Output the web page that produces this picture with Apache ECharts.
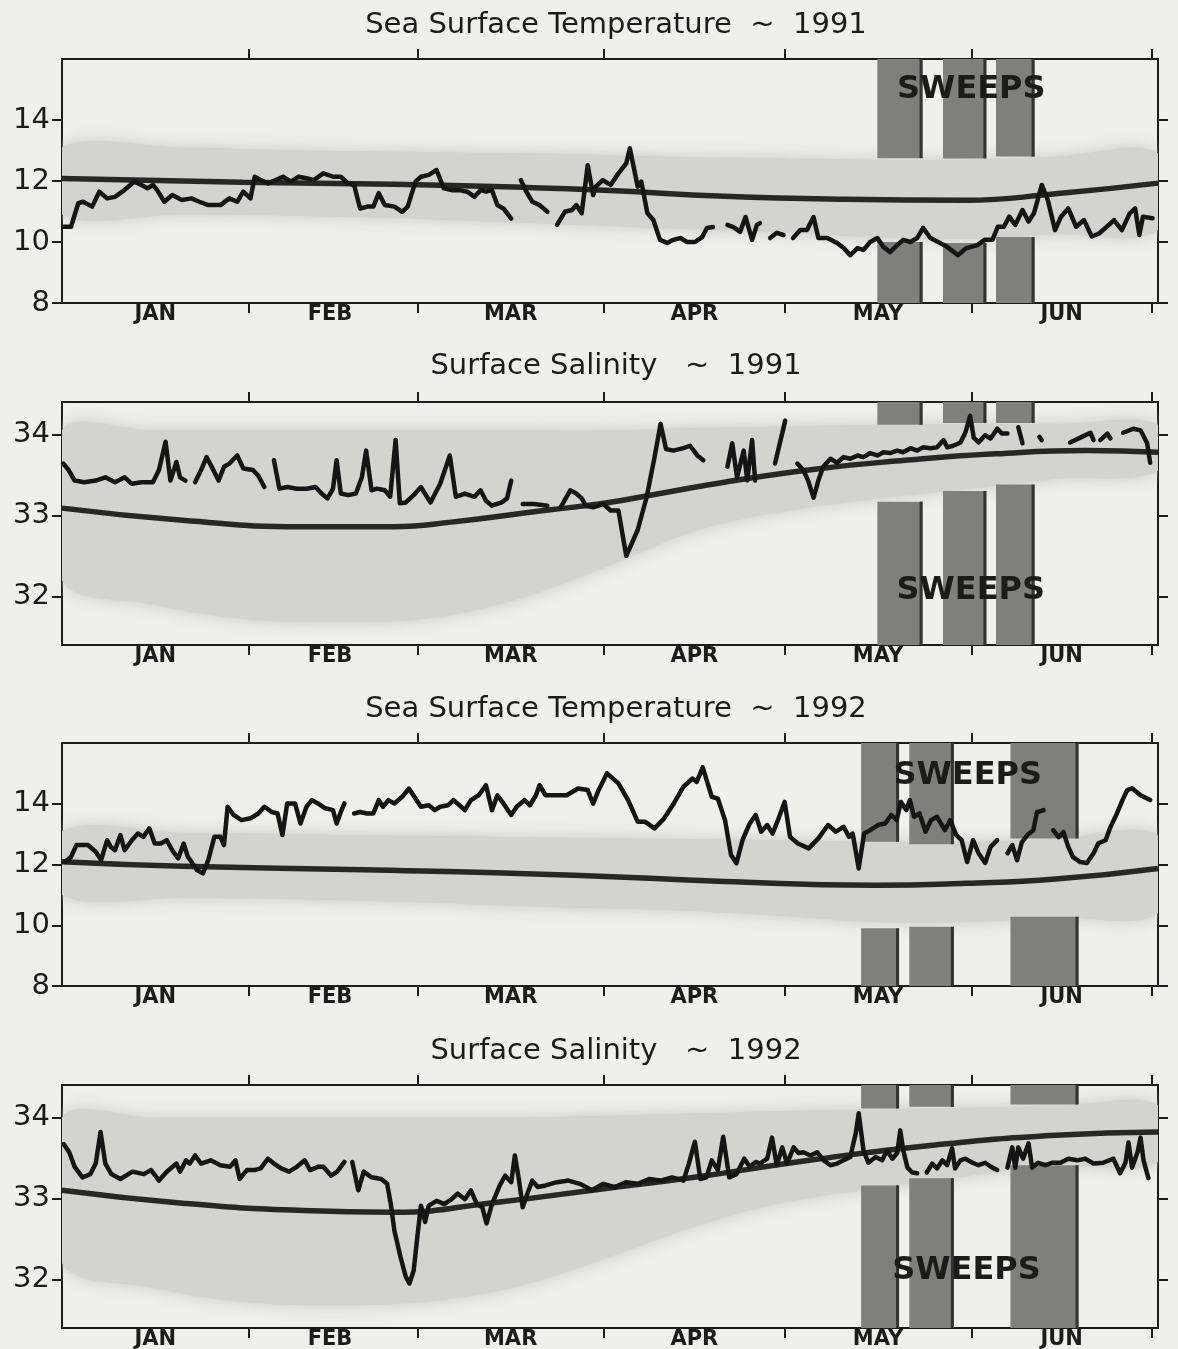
<!DOCTYPE html>
<html>
<head>
<meta charset="utf-8">
<title>Sea Surface Temperature / Surface Salinity 1991-1992</title>
<script src="https://cdn.jsdelivr.net/npm/echarts@6/dist/echarts.min.js"></script>
<style>
  html, body { margin: 0; padding: 0; background: #efefeb; }
  #chart { width: 1178px; height: 1349px; }
</style>
</head>
<body>
<div id="chart"></div>
<script>
// month axis (day of year, Jan 1 = 0)
var monthNames = ['JAN', 'FEB', 'MAR', 'APR', 'MAY', 'JUN'];
var monthMid = [15.5, 44.5, 74.5, 105, 135.5, 166];
var monthEdge = [31, 59, 90, 120, 151, 181];

var tempTicks = [8, 10, 12, 14];
var salTicks = [32, 33, 34];

// climatology band: [day, lower, upper]
var sst91Band = [[0,10.9,13.1],[20,10.9,13.1],[40,10.85,13.0],[60,10.75,12.95],[80,10.6,12.9],[100,10.45,12.8],[120,10.3,12.75],[135,10.15,12.7],[150,10.1,12.7],[165,10.25,12.8],[182,10.4,12.9]];
var sss91Band = [[0,32.2,34.05],[15,31.9,34.05],[30,31.72,34.05],[45,31.68,34.05],[60,31.72,34.05],[75,31.95,34.05],[90,32.35,34.05],[105,32.8,34.08],[120,33.05,34.1],[135,33.2,34.12],[150,33.32,34.13],[165,33.45,34.13],[182,33.55,34.12]];
var sst92Band = [[0,11.0,13.1],[20,10.9,13.05],[40,10.85,13.0],[60,10.75,12.95],[80,10.6,12.9],[100,10.5,12.85],[120,10.3,12.8],[135,10.1,12.75],[150,10.1,12.75],[165,10.25,12.85],[182,10.4,12.95]];
var sss92Band = [[0,32.2,34.0],[15,31.9,34.0],[30,31.72,34.0],[45,31.68,34.0],[60,31.72,34.0],[75,31.9,34.0],[90,32.25,34.02],[105,32.65,34.05],[120,32.95,34.08],[135,33.12,34.1],[150,33.27,34.12],[165,33.4,34.14],[182,33.45,34.15]];

// long-term mean
var sst91Mean = [[0,12.08],[30,11.96],[55,11.89],[75,11.8],[90,11.7],[110,11.5],[130,11.4],[150,11.37],[165,11.58],[182,11.93]];
var sss91Mean = [[0,33.09],[20,32.94],[40,32.86],[55,32.86],[65,32.92],[80,33.06],[90,33.15],[100,33.28],[110,33.41],[125,33.57],[140,33.68],[155,33.76],[170,33.8],[182,33.78]];
var sst92Mean = [[0,12.09],[20,11.94],[50,11.83],[85,11.65],[110,11.44],[135,11.32],[150,11.38],[165,11.52],[182,11.87]];
var sss92Mean = [[0,33.1],[20,32.94],[40,32.85],[55,32.83],[72,32.95],[90,33.12],[105,33.26],[125,33.48],[145,33.66],[165,33.78],[182,33.82]];

// observed daily values (null = no data)
var sst91Obs = [[0.2,10.5],[1.5,10.5],[2.7,11.27],[3.5,11.32],[5,11.16],[6.2,11.65],[7.5,11.43],[8.8,11.48],[10,11.65],[11,11.81],[12,11.98],[13.2,11.87],[14.2,11.76],[15.1,11.87],[15.8,11.7],[17,11.32],[18.3,11.54],[19.9,11.38],[21.5,11.43],[22.8,11.32],[24.3,11.21],[26.3,11.21],[27.8,11.43],[29.1,11.32],[30.1,11.65],[31.3,11.43],[32,12.14],[33,12.03],[34.2,11.92],[35.5,12.03],[36.7,12.14],[38,11.98],[39.3,12.14],[40.6,12.09],[41.8,12.03],[43.4,12.25],[45,12.14],[46.3,12.14],[47.5,11.92],[48.5,11.87],[49.5,11.1],[50.7,11.16],[51.7,11.16],[52.6,11.6],[53.6,11.21],[55.2,11.16],[56.5,10.99],[57.4,11.16],[58.7,11.98],[59.6,12.14],[60.9,12.2],[62.2,12.36],[63.4,11.76],[64.7,11.7],[66,11.7],[67.3,11.65],[68.5,11.48],[69.5,11.7],[70.4,11.65],[71.4,11.7],[72.3,11.21],[73.3,11.1],[74.6,10.77],[75.4,null],
  [76.2,12.03],[77.1,11.65],[78.1,11.32],[79.3,11.21],[80.6,10.99],[81.4,null],
  [82.2,10.56],[83.5,10.99],[84.7,11.05],[85.4,11.21],[86.3,10.94],[87.3,12.52],[88.2,11.54],[88.6,11.81],[89.8,12.03],[91.1,11.87],[92.4,12.25],[93.7,12.58],[94.3,13.07],[95.6,11.81],[96.2,11.98],[97.2,10.95],[98.2,10.72],[99.3,10.07],[100.5,9.97],[101.5,10.07],[102.7,10.13],[103.8,10.0],[105.1,10.0],[106.3,10.16],[107.1,10.46],[108.1,10.49],[109.3,null],
  [110.5,10.56],[111.5,10.49],[112.6,10.33],[113.5,10.82],[114.6,10.07],[115.4,10.56],[115.9,10.62],[116.8,null],
  [117.6,10.13],[118.7,10.3],[119.8,10.23],[120.6,null],
  [121.4,10.13],[122.6,10.39],[123.7,10.39],[124.8,10.82],[125.6,10.13],[127.1,10.13],[128.7,9.97],[129.8,9.8],[130.9,9.57],[132.1,9.8],[133.1,9.74],[134.2,10.0],[135.4,10.13],[136.4,9.84],[137.5,9.67],[138.7,9.9],[139.7,10.07],[140.9,10.0],[142,10.13],[143,10.46],[144.2,10.13],[145.8,9.97],[146.9,9.85],[148.8,9.57],[150.1,9.79],[152,9.9],[153.2,10.07],[154.5,10.07],[155.4,10.5],[156.4,10.5],[157.3,10.83],[158.3,10.56],[159.5,11.05],[160.5,10.67],[161.4,10.94],[162.7,11.87],[163.7,11.38],[164.9,10.39],[165.9,10.83],[167.1,11.1],[168.4,10.5],[169.7,10.72],[171,10.18],[172.2,10.28],[173.5,10.5],[174.7,10.72],[176,10.39],[177.3,10.94],[178.2,11.1],[178.9,10.23],[179.5,10.83],[181.1,10.78]];

var sss91Obs = [[0.2,33.64],[1.1,33.56],[2.1,33.43],[3.7,33.41],[5.6,33.43],[7.2,33.47],[8.8,33.41],[10.4,33.47],[11.6,33.39],[13.2,33.41],[15.1,33.41],[16.1,33.56],[17.2,33.91],[18,33.43],[19,33.66],[19.6,33.47],[20.5,33.43],[21.3,null],
  [22.1,33.41],[23.1,33.56],[24,33.72],[25,33.58],[26,33.43],[26.9,33.6],[27.8,33.64],[29.1,33.74],[30.1,33.58],[31.7,33.56],[32.6,33.49],[33.6,33.35],[34.4,null],
  [35.2,33.68],[36.1,33.33],[37.4,33.35],[39,33.33],[40.6,33.33],[42.1,33.35],[43.1,33.27],[44.1,33.21],[45,33.33],[45.6,33.68],[46.3,33.27],[47.5,33.25],[48.8,33.27],[49.8,33.47],[50.5,33.8],[51.4,33.31],[52.3,33.33],[53.6,33.31],[54.5,33.23],[55.4,33.93],[56.1,33.15],[57.1,33.16],[58.4,33.25],[59.6,33.35],[61.2,33.16],[62.8,33.39],[64.4,33.74],[65.4,33.23],[66.9,33.27],[68.5,33.23],[69.5,33.31],[70.4,33.18],[71.4,33.12],[73,33.16],[73.9,33.21],[74.6,33.43],[75.5,null],
  [76.5,33.14],[78.4,33.14],[80.6,33.12],[81.7,null],
  [82.8,33.1],[84.4,33.31],[85.4,33.27],[86.3,33.21],[87,33.12],[88.2,33.1],[89.9,33.14],[91.1,33.06],[92.4,33.06],[93.7,32.5],[95.6,32.82],[97.1,33.23],[98.4,33.72],[99.4,34.13],[100.3,33.82],[101.5,33.8],[103.2,33.83],[104.3,33.86],[105.5,33.74],[106.5,33.68],[108.5,null],
  [110.5,33.6],[111.3,33.89],[112.1,33.47],[113.2,33.8],[113.8,33.43],[114.6,33.93],[115.1,33.43],[116.8,null],
  [118.4,33.64],[120.1,34.17],[121.1,null],
  [122.1,33.64],[123.1,33.56],[123.9,33.43],[124.8,33.22],[125.6,33.43],[126.4,33.6],[127.6,33.7],[128.7,33.65],[129.8,33.72],[130.9,33.7],[132.1,33.74],[133.1,33.72],[134.2,33.77],[135.4,33.74],[136.4,33.78],[137.5,33.77],[138.7,33.8],[139.7,33.78],[140.9,33.83],[142,33.8],[143,33.84],[144.2,33.83],[145.3,33.84],[146.4,33.93],[147,33.84],[148,33.86],[149.2,33.9],[150,34.02],[150.8,34.23],[151.4,33.96],[152.2,33.9],[153.3,33.99],[154.2,33.95],[155.3,34.07],[156.1,34.01],[157,34.01],[157.9,null],
  [158.8,34.09],[159.5,33.89],[161,null],
  [162.3,33.97],[162.7,33.93],[165,null],
  [167.4,33.9],[169.1,33.96],[170.8,34.02],[171.3,33.93],[171.8,null],
  [172.4,33.93],[173.6,34.01],[174.1,33.95],[175.2,null],
  [176.2,34.02],[177.9,34.07],[179.1,34.05],[180.2,33.89],[180.7,33.65]];

var sst92Obs = [[0.5,12.09],[1.5,12.25],[2.4,12.64],[4.3,12.64],[5.6,12.42],[6.5,12.15],[7.5,12.8],[8.1,12.58],[8.8,12.47],[9.7,12.97],[10.4,12.47],[11.6,12.8],[12.6,13.02],[13.5,12.91],[14.5,13.19],[15.4,12.69],[16.4,12.69],[17.4,12.8],[18.3,12.47],[19.3,12.2],[20.2,12.69],[20.9,12.25],[21.5,12.09],[22.4,11.82],[23.4,11.71],[24.3,12.15],[25.3,12.91],[26.3,12.91],[26.9,12.64],[27.5,13.9],[28.5,13.63],[29.8,13.46],[31.3,13.52],[32.6,13.68],[33.6,13.9],[34.8,13.73],[35.8,13.68],[36.6,12.97],[37.4,14.01],[38.7,14.01],[39.6,13.35],[40.6,13.9],[41.5,14.12],[42.5,14.01],[43.7,13.85],[45,13.79],[45.6,13.35],[46.3,13.73],[46.9,14.01],[47.7,null],
  [48.5,13.68],[49.5,13.73],[50.7,13.68],[51.7,13.68],[52.6,14.12],[53.3,13.9],[54.2,14.12],[55.2,14.01],[56.5,14.23],[57.6,14.5],[58.7,14.17],[59.6,13.9],[60.9,13.95],[61.9,13.79],[62.8,13.9],[64.1,13.95],[65,14.12],[66,13.95],[66.9,13.79],[67.9,14.12],[69.2,14.28],[70.4,14.61],[71.4,13.79],[72.3,14.28],[73.3,14.01],[74.6,13.63],[75.5,13.9],[76.8,14.12],[77.7,13.95],[78.7,14.28],[79.3,14.61],[80.3,14.28],[81.9,14.28],[83.8,14.28],[85.7,14.5],[87.3,14.45],[88.2,14.0],[89,14.4],[90.5,15.0],[92.4,14.67],[94,14.12],[95.6,13.41],[96.8,13.41],[98.4,13.19],[100,13.52],[101.6,14.01],[103.2,14.56],[104.7,14.83],[105.4,14.72],[106.4,15.2],[107.3,14.61],[107.9,14.23],[108.9,14.17],[110.1,13.46],[111.1,12.31],[112,12.04],[113,12.8],[114.2,13.35],[115.2,13.63],[116.1,13.08],[117.1,13.3],[118,13.02],[119,13.52],[120,14.06],[120.9,12.91],[122.2,12.69],[124,12.53],[125.6,12.86],[127.2,13.3],[128.5,13.08],[129.8,13.24],[130.7,12.91],[131.3,13.02],[132.3,11.87],[133.2,13.02],[134.2,13.13],[135.5,13.3],[136.7,13.35],[137.7,13.63],[138.6,13.46],[139.3,14.06],[140.2,13.79],[140.8,14.12],[141.5,13.57],[142.4,13.68],[143.4,13.08],[144.3,13.46],[145.3,13.57],[146.6,13.13],[147.5,13.46],[148.5,12.97],[149.4,12.8],[150.3,12.08],[151.3,12.8],[152.2,12.37],[153.3,12.05],[154.2,12.58],[155.3,12.8],[156.1,null],
  [157,12.37],[157.8,12.64],[158.6,12.14],[159.4,12.74],[160.3,12.97],[161.3,13.13],[161.9,13.72],[163,13.79],[163.8,null],
  [164.6,13.13],[165.5,12.9],[166.3,13.07],[167.1,12.58],[167.9,12.24],[169.1,12.08],[170.2,12.05],[171.3,12.37],[172.1,12.7],[173.3,12.8],[174.1,13.23],[175.2,13.69],[176.1,14.12],[176.9,14.45],[177.7,14.51],[179.1,14.28],[180.7,14.12]];

var sss92Obs = [[0.3,33.67],[1.2,33.57],[2.1,33.39],[3.4,33.26],[4.7,33.3],[5.6,33.43],[6.4,33.82],[7.2,33.43],[8.2,33.3],[9.7,33.24],[11.7,33.33],[13.6,33.3],[14.8,33.35],[16.1,33.22],[17.4,33.33],[19,33.43],[19.6,33.33],[20.6,33.47],[21.2,33.43],[22.1,33.53],[23.1,33.43],[24.7,33.47],[26.3,33.41],[27.9,33.39],[28.8,33.47],[29.5,33.24],[30.7,33.35],[32,33.35],[33,33.37],[34.2,33.49],[35.2,33.43],[36.4,33.37],[37.7,33.33],[39,33.39],[40.3,33.47],[41.2,33.35],[42.5,33.39],[43.4,33.39],[44.7,33.28],[45.7,33.33],[46.9,33.45],[47.5,null],
  [48.2,33.45],[49.2,33.1],[50.1,33.33],[51.4,33.26],[53,33.24],[54,33.18],[54.6,32.93],[55.2,32.6],[56.2,32.28],[57.1,32.03],[57.7,31.95],[58.4,32.11],[59,32.52],[59.6,32.91],[60.3,32.71],[60.9,32.91],[62.2,32.97],[63.5,32.93],[64.7,32.99],[65.7,33.06],[66.9,32.99],[67.9,33.1],[68.9,32.93],[69.8,32.89],[70.5,32.69],[71.4,32.93],[72.7,33.16],[73.6,33.28],[74.6,33.2],[75.2,33.53],[75.9,33.22],[76.5,32.89],[77.1,33.02],[78.1,33.22],[79,33.14],[80.3,33.16],[82.2,33.2],[84.1,33.22],[86,33.18],[88,33.1],[89.9,33.18],[91.8,33.14],[93.6,33.2],[95.6,33.18],[97.5,33.24],[99.4,33.22],[101.3,33.26],[103.2,33.22],[104.1,33.43],[105.1,33.7],[106,33.24],[107,33.26],[107.9,33.47],[108.9,33.35],[109.8,33.76],[110.8,33.26],[112,33.3],[113.3,33.49],[114.2,33.39],[115.2,33.45],[115.9,33.43],[117.1,33.49],[117.9,33.75],[118.7,33.41],[119.6,33.63],[120.4,33.43],[121.5,33.63],[122.3,33.56],[123.1,33.57],[124.3,33.53],[125.4,33.57],[126.5,33.47],[127.6,33.41],[128.7,33.43],[129.8,33.47],[130.9,33.51],[131.8,33.8],[132.3,34.05],[133.1,33.59],[133.9,33.44],[135.1,33.51],[136.2,33.47],[137,33.59],[137.9,33.49],[138.7,33.56],[139.2,33.84],[139.7,33.59],[140.4,33.38],[141.2,33.32],[142,33.31],[142.8,null],
  [143.6,33.32],[144.5,33.43],[145.3,33.37],[146.2,33.47],[147,33.41],[147.8,33.62],[148.3,33.37],[149.2,33.47],[150,33.49],[151.2,33.44],[152.2,33.41],[153.3,33.44],[154.5,33.38],[155.3,33.35],[156.1,null],
  [157,33.38],[157.8,33.63],[158.3,33.38],[158.8,33.63],[159.6,33.49],[160.5,33.68],[161.1,33.38],[162.1,33.44],[163.3,33.41],[164.4,33.44],[165.8,33.44],[167.1,33.49],[168.6,33.47],[169.9,33.49],[171.3,33.43],[172.9,33.44],[174.6,33.49],[175.7,33.31],[176.6,33.44],[177.1,33.69],[177.7,33.38],[178.6,33.57],[179.1,33.75],[179.6,33.47],[180.4,33.25]];

// SWEEPS cruise periods [start day, end day]
var sweeps91 = [[135.4, 142.9], [146.3, 153.5], [155.1, 161.5]];
var sweeps92 = [[132.7, 139.0], [140.7, 148.1], [157.5, 168.8]];
// lower edge of the upper boxes / upper edge of the lower boxes
var sst91BoxTop = [12.75, 12.74, 12.8];
var sst91BoxBot = [10.0, 9.97, 10.16];
var sss91BoxTop = [34.12, 34.14, 34.14];
var sss91BoxBot = [33.17, 33.3, 33.38];
var sst92BoxTop = [12.75, 12.67, 12.86];
var sst92BoxBot = [9.9, 9.95, 10.28];
var sss92BoxTop = [34.11, 34.13, 34.16];
var sss92BoxBot = [33.16, 33.25, 33.41];
// where the word SWEEPS sits
var sst91Label = [151, 14.98];
var sss91Label = [150.9, 32.07];
var sst92Label = [150.4, 14.94];
var sss92Label = [150.2, 32.11];

var FONT = 'DejaVu Sans';
var INK = '#1b1b1b';

var panels = [
  { title: 'Sea Surface Temperature  ~  1991', titleTop: 6, top: 59, height: 244, min: 8, max: 16, ticks: tempTicks,
    band: sst91Band, mean: sst91Mean, obs: sst91Obs, sweeps: sweeps91, boxTop: sst91BoxTop, boxBot: sst91BoxBot, label: sst91Label },
  { title: 'Surface Salinity   ~  1991', titleTop: 347, top: 402, height: 243, min: 31.4, max: 34.4, ticks: salTicks,
    band: sss91Band, mean: sss91Mean, obs: sss91Obs, sweeps: sweeps91, boxTop: sss91BoxTop, boxBot: sss91BoxBot, label: sss91Label },
  { title: 'Sea Surface Temperature  ~  1992', titleTop: 690, top: 743, height: 243, min: 8, max: 16, ticks: tempTicks,
    band: sst92Band, mean: sst92Mean, obs: sst92Obs, sweeps: sweeps92, boxTop: sst92BoxTop, boxBot: sst92BoxBot, label: sst92Label },
  { title: 'Surface Salinity   ~  1992', titleTop: 1032, top: 1085, height: 243, min: 31.4, max: 34.4, ticks: salTicks,
    band: sss92Band, mean: sss92Mean, obs: sss92Obs, sweeps: sweeps92, boxTop: sss92BoxTop, boxBot: sss92BoxBot, label: sss92Label }
];

var axisLine = { show: true, onZero: false, lineStyle: { color: INK, width: 2 } };
function tick(values) {
  return { show: true, inside: false, length: 10, customValues: values, lineStyle: { color: INK, width: 2 } };
}

// climatology band: one polygon, upper edge left->right then lower edge back
function bandRenderer(rows) {
  return function (params, api) {
    if (params.dataIndex !== 0) return null;
    var pts = [];
    rows.forEach(function (r) { pts.push(api.coord([r[0], r[2]])); });
    rows.slice().reverse().forEach(function (r) { pts.push(api.coord([r[0], r[1]])); });
    return {
      type: 'polygon',
      shape: { points: pts, smooth: 0.35 },
      style: { fill: '#d3d3cf', shadowBlur: 16, shadowColor: 'rgba(200,200,196,1)' }
    };
  };
}

// sweep boxes: a filled rectangle with a dark strip on its right side
function renderBox(params, api) {
  var p0 = api.coord([api.value(0), api.value(3)]);
  var p1 = api.coord([api.value(1), api.value(2)]);
  var w = p1[0] - p0[0], h = p1[1] - p0[1];
  return {
    type: 'group',
    children: [
      { type: 'rect', shape: { x: p0[0], y: p0[1], width: w, height: h }, style: { fill: '#7f7f7c' } },
      { type: 'rect', shape: { x: p1[0] - 3, y: p0[1], width: 3, height: h }, style: { fill: '#333331' } }
    ]
  };
}

// the word SWEEPS, placed at a data position
function renderWord(params, api) {
  var p = api.coord([api.value(0), api.value(1)]);
  return {
    type: 'text',
    x: p[0], y: p[1],
    style: { text: 'SWEEPS', fill: INK, font: 'bold 32px "DejaVu Sans"', align: 'center', verticalAlign: 'middle' }
  };
}

var grids = [], titles = [], xAxes = [], yAxes = [], series = [];

panels.forEach(function (p, i) {
  grids.push({ left: 62, width: 1096, top: p.top, height: p.height, outerBoundsMode: 'none' });

  titles.push({
    text: p.title, left: 611, top: p.titleTop, textAlign: 'center',
    textStyle: { fontFamily: FONT, fontSize: 29, fontWeight: 'normal', color: INK }
  });

  xAxes.push({
    gridIndex: i, type: 'value', min: 0, max: 182, position: 'bottom',
    axisLine: axisLine, axisTick: tick(monthEdge), splitLine: { show: false },
    axisLabel: {
      show: true, customValues: monthMid, margin: 1,
      fontFamily: FONT, fontSize: 21, fontWeight: 'bold', color: INK,
      formatter: function (v) {
        var k = monthMid.indexOf(v);
        return k >= 0 ? monthNames[k] : '';
      }
    }
  });
  xAxes.push({
    gridIndex: i, type: 'value', min: 0, max: 182, position: 'top',
    axisLine: axisLine, axisTick: tick(monthEdge), axisLabel: { show: false }, splitLine: { show: false }
  });

  yAxes.push({
    gridIndex: i, type: 'value', min: p.min, max: p.max, position: 'left',
    axisLine: axisLine, axisTick: tick(p.ticks), splitLine: { show: false },
    axisLabel: { show: true, customValues: p.ticks, margin: 12, fontFamily: FONT, fontSize: 29, color: INK }
  });
  yAxes.push({
    gridIndex: i, type: 'value', min: p.min, max: p.max, position: 'right',
    axisLine: axisLine, axisTick: tick(p.ticks), axisLabel: { show: false }, splitLine: { show: false }
  });

  var ax = { xAxisIndex: 2 * i, yAxisIndex: 2 * i };

  series.push(Object.assign({
    type: 'custom', renderItem: bandRenderer(p.band), silent: true, z: 1, clip: true,
    encode: { x: 0, y: [1, 2] }, data: p.band
  }, ax));

  // SWEEPS boxes above and below the band
  var boxes = [];
  p.sweeps.forEach(function (s, k) {
    boxes.push([s[0], s[1], p.boxTop[k], p.max]);
    boxes.push([s[0], s[1], p.min, p.boxBot[k]]);
  });
  series.push(Object.assign({
    type: 'custom', renderItem: renderBox, silent: true, z: 2,
    encode: { x: [0, 1], y: [2, 3] }, data: boxes
  }, ax));

  // mean
  series.push(Object.assign({
    type: 'line', smooth: 0.5, symbol: 'none', silent: true, z: 3,
    lineStyle: { color: '#272725', width: 5.5 },
    data: p.mean
  }, ax));

  // observations
  series.push(Object.assign({
    type: 'line', symbol: 'none', silent: true, z: 4, connectNulls: false,
    lineStyle: { color: '#151515', width: 4.5, join: 'round', cap: 'round' },
    data: p.obs
  }, ax));

  // SWEEPS word
  series.push(Object.assign({
    type: 'custom', renderItem: renderWord, silent: true, z: 5,
    encode: { x: 0, y: 1 }, data: [p.label]
  }, ax));
});

var chart = echarts.init(document.getElementById('chart'));
chart.setOption({
  animation: false,
  backgroundColor: '#efefeb',
  title: titles,
  grid: grids,
  xAxis: xAxes,
  yAxis: yAxes,
  series: series
});
</script>
</body>
</html>
